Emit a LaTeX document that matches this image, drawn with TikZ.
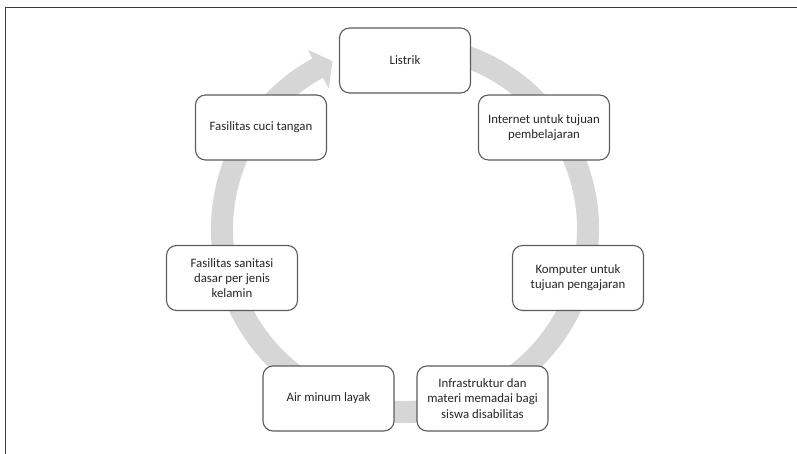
\documentclass[tikz,border=0pt]{standalone}
\usepackage{fontspec}
\setmainfont{Carlito}
\definecolor{ringgray}{HTML}{D6D6D6}
\definecolor{boxline}{HTML}{5C5C5C}
\definecolor{txt}{HTML}{262626}
\definecolor{framec}{HTML}{3A3A3A}
\begin{document}
\begin{tikzpicture}[x=1pt,y=1pt,
  cyclebox/.style={draw=boxline, line width=1.1pt, fill=white, rounded corners=10pt,
    minimum width=131pt, minimum height=65pt, align=center, text=txt,
    font=\fontsize{12.8}{15.2}\selectfont, inner sep=2pt},
  framepart/.style={draw=framec, line width=1.6pt}]
\useasboundingbox (0,0) rectangle (797,454);
% frame (only top and left visible)
\coordinate (ftl) at (5.5,446.5);
\coordinate (ftr) at (800,446.5);
\coordinate (fbl) at (5.5,-3);
\draw[framepart] (fbl) -- (ftl) -- (ftr);
% ring arrow
\begin{scope}[shift={(405,225)}]
\fill[ringgray] (80:194) arc[start angle=80, end angle=-241.5, radius=194]
  -- (-241.5:204) -- (-72.5,167.9) -- (-241.5:160) -- (-241.5:172)
  arc[start angle=-241.5, end angle=80, radius=172] -- cycle;
\end{scope}
% nodes
\node[cyclebox] (listrik) at (405,393.5) {Listrik};
\node[cyclebox] (internet) at (544,326.5) {Internet untuk tujuan\\pembelajaran};
\node[cyclebox] (komputer) at (578,176) {Komputer untuk\\tujuan pengajaran};
\node[cyclebox] (infra) at (482.5,55.5) {Infrastruktur dan\\materi memadai bagi\\siswa disabilitas};
\node[cyclebox] (air) at (328.5,55.5) {Air minum layak};
\node[cyclebox] (sanitasi) at (232,176) {Fasilitas sanitasi\\dasar per jenis\\kelamin};
\node[cyclebox] (cuci) at (261,326.5) {Fasilitas cuci tangan};
\end{tikzpicture}
\end{document}
